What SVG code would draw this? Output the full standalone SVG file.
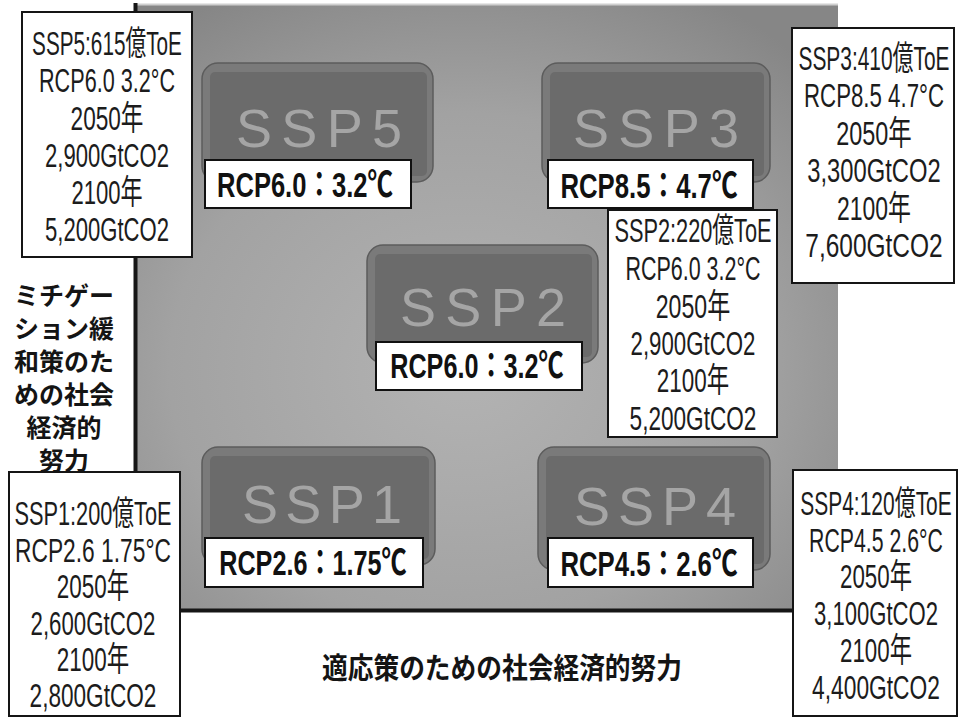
<svg xmlns="http://www.w3.org/2000/svg" width="958" height="718" viewBox="0 0 958 718">
<defs>
<radialGradient id="pg" cx="0.47" cy="0.6" r="0.7">
<stop offset="0" stop-color="#b3b3b3"/>
<stop offset="0.6" stop-color="#a2a2a2"/>
<stop offset="1" stop-color="#868686"/>
</radialGradient>
<style>
.info rect{fill:#fff;stroke:#151515;stroke-width:2}
.info text{font-family:"Liberation Sans","Noto Sans CJK JP",sans-serif;font-size:34px;fill:#1c1c1c;text-anchor:middle}
.outer{fill:#7a7a7a;stroke:#5c5c5c;stroke-width:1.5}
.inner{fill:#6b6b6b}
.title{font-family:"Liberation Sans",sans-serif;font-size:54px;fill:#a5a5a5;text-anchor:middle}
.lab{fill:#fff;stroke:#111;stroke-width:2}
.labt{font-family:"Liberation Sans","Noto Sans CJK JP",sans-serif;font-weight:bold;font-size:35px;fill:#111;text-anchor:middle}
.axis{font-family:"Noto Sans CJK JP",sans-serif;font-weight:bold;fill:#141414;text-anchor:middle}
</style>
</defs>
<rect width="958" height="718" fill="#fff"/>
<g id="panel">
<rect x="134" y="4" width="704" height="607" fill="url(#pg)"/>
<line x1="134" y1="4.5" x2="838" y2="4.5" stroke="#cfcfcf" stroke-width="2"/>
<line x1="135.5" y1="3" x2="135.5" y2="612" stroke="#161616" stroke-width="4"/>
<line x1="134" y1="610.5" x2="838" y2="610.5" stroke="#161616" stroke-width="4"/>
</g>
<g id="connectors"></g>
<g id="node-ssp5">
<rect class="outer" x="202" y="63" width="231" height="119" rx="16"/>
<rect class="inner" x="210" y="72" width="217" height="104" rx="5"/>
<text class="title" x="319" y="147" textLength="166" lengthAdjust="spacing">SSP5</text>
<rect class="lab" x="205" y="160" width="206" height="48"/>
<text class="labt" transform="translate(305 197) scale(0.73 1)">RCP6.0：3.2℃</text>
</g>
<g id="node-ssp3">
<rect class="outer" x="542" y="63" width="228" height="119" rx="16"/>
<rect class="inner" x="550" y="72" width="214" height="104" rx="5"/>
<text class="title" x="656" y="147" textLength="166" lengthAdjust="spacing">SSP3</text>
<rect class="lab" x="548" y="160" width="205" height="48"/>
<text class="labt" transform="translate(649 198) scale(0.735 1)">RCP8.5：4.7℃</text>
</g>
<g id="node-ssp2">
<rect class="outer" x="367" y="245" width="231" height="118" rx="16"/>
<rect class="inner" x="375" y="254" width="217" height="103" rx="5"/>
<text class="title" x="483" y="326" textLength="166" lengthAdjust="spacing">SSP2</text>
<rect class="lab" x="376" y="342" width="206" height="48"/>
<text class="labt" transform="translate(477 378) scale(0.72 1)">RCP6.0：3.2℃</text>
</g>
<g id="node-ssp1">
<rect class="outer" x="202" y="447" width="233" height="118" rx="16"/>
<rect class="inner" x="210" y="456" width="219" height="103" rx="5"/>
<text class="title" x="322" y="523" textLength="160" lengthAdjust="spacing">SSP1</text>
<rect class="lab" x="205" y="538" width="218" height="49"/>
<text class="labt" transform="translate(313 575) scale(0.72 1)">RCP2.6：1.75℃</text>
</g>
<g id="node-ssp4">
<rect class="outer" x="538" y="447" width="232" height="123" rx="16"/>
<rect class="inner" x="546" y="456" width="218" height="108" rx="5"/>
<text class="title" x="655" y="525" textLength="162" lengthAdjust="spacing">SSP4</text>
<rect class="lab" x="548" y="538" width="205" height="49"/>
<text class="labt" transform="translate(649 576) scale(0.735 1)">RCP4.5：2.6℃</text>
</g>
<g id="info-ssp5" class="info">
<rect x="22" y="12" width="170" height="245"/>
<text transform="translate(107 55) scale(0.61 1)">SSP5:615億ToE</text>
<text transform="translate(107 92) scale(0.636 1)">RCP6.0 3.2°C</text>
<text transform="translate(107 130) scale(0.665 1)">2050年</text>
<text transform="translate(107 167) scale(0.65 1)">2,900GtCO2</text>
<text transform="translate(107 204) scale(0.65 1)">2100年</text>
<text transform="translate(107 241) scale(0.65 1)">5,200GtCO2</text>
</g>
<g id="info-ssp3" class="info">
<rect x="792" y="28" width="162" height="255"/>
<text transform="translate(874 70) scale(0.615 1)">SSP3:410億ToE</text>
<text transform="translate(874 107) scale(0.655 1)">RCP8.5 4.7°C</text>
<text transform="translate(874 145) scale(0.69 1)">2050年</text>
<text transform="translate(874 182) scale(0.7 1)">3,300GtCO2</text>
<text transform="translate(874 220) scale(0.675 1)">2100年</text>
<text transform="translate(874 257) scale(0.72 1)">7,600GtCO2</text>
</g>
<g id="info-ssp2" class="info">
<rect x="608" y="210" width="169" height="227"/>
<text transform="translate(693 242) scale(0.64 1)">SSP2:220億ToE</text>
<text transform="translate(693 280) scale(0.632 1)">RCP6.0 3.2°C</text>
<text transform="translate(693 318) scale(0.68 1)">2050年</text>
<text transform="translate(693 355) scale(0.655 1)">2,900GtCO2</text>
<text transform="translate(693 392) scale(0.66 1)">2100年</text>
<text transform="translate(693 430) scale(0.665 1)">5,200GtCO2</text>
</g>
<g id="info-ssp1" class="info">
<rect x="9" y="472" width="171" height="244"/>
<text transform="translate(93 525) scale(0.64 1)">SSP1:200億ToE</text>
<text transform="translate(93 562) scale(0.67 1)">RCP2.6 1.75°C</text>
<text transform="translate(93 598) scale(0.66 1)">2050年</text>
<text transform="translate(93 635) scale(0.655 1)">2,600GtCO2</text>
<text transform="translate(93 671) scale(0.66 1)">2100年</text>
<text transform="translate(93 707) scale(0.665 1)">2,800GtCO2</text>
</g>
<g id="info-ssp4" class="info">
<rect x="793" y="470" width="164" height="246"/>
<text transform="translate(876 515) scale(0.617 1)">SSP4:120億ToE</text>
<text transform="translate(876 552) scale(0.626 1)">RCP4.5 2.6°C</text>
<text transform="translate(876 588) scale(0.657 1)">2050年</text>
<text transform="translate(876 625) scale(0.65 1)">3,100GtCO2</text>
<text transform="translate(876 662) scale(0.657 1)">2100年</text>
<text transform="translate(876 699) scale(0.67 1)">4,400GtCO2</text>
</g>
<g id="axis-mitigation" class="axis" font-size="25">
<text x="64" y="305">ミチゲー</text>
<text x="64" y="338">ション緩</text>
<text x="64" y="371">和策のた</text>
<text x="64" y="404">めの社会</text>
<text x="64" y="437">経済的</text>
<text x="64" y="470">努力</text>
</g>
<g id="axis-adaptation" class="axis" font-size="29">
<text x="502" y="679" textLength="360" lengthAdjust="spacingAndGlyphs">適応策のための社会経済的努力</text>
</g>
</svg>
